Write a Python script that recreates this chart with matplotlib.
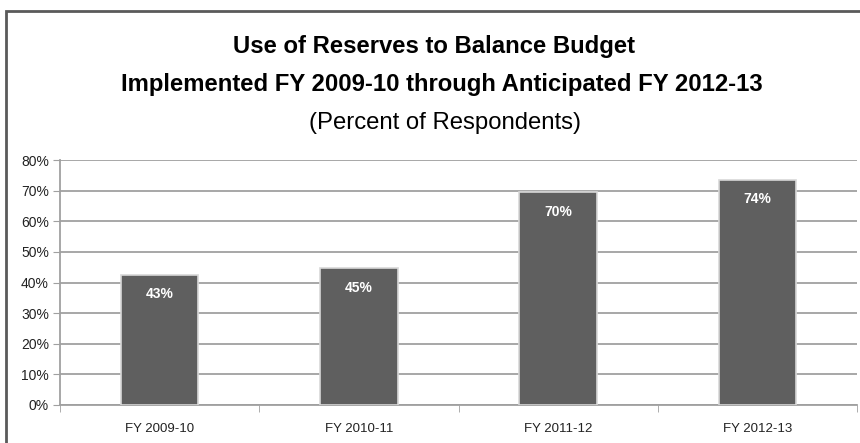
import numpy as np
import matplotlib.pyplot as plt
from matplotlib.patches import Rectangle

categories = ["FY 2009-10", "FY 2010-11", "FY 2011-12", "FY 2012-13"]
values = [42.5, 44.6, 69.4, 73.6]
labels = ["43%", "45%", "70%", "74%"]
yticks = [0, 10, 20, 30, 40, 50, 60, 70, 80]

plt.rcParams['font.family'] = ["Liberation Sans", "DejaVu Sans"]

fig = plt.figure(figsize=(8.6, 4.43), dpi=100)
fig.patches.append(Rectangle((6/860, -0.1), 1.2, 1 - 11/443 + 0.1,
                             transform=fig.transFigure, fill=False,
                             edgecolor="#5a5a5a", linewidth=2))

fig.text(0.505, 1 - 46/443, "Use of Reserves to Balance Budget",
         ha="center", va="center", fontsize=17.2, fontweight="bold")
fig.text(0.514, 1 - 84/443, "Implemented FY 2009-10 through Anticipated FY 2012-13",
         ha="center", va="center", fontsize=17.2, fontweight="bold")
fig.text(0.517, 1 - 123/443, "(Percent of Respondents)",
         ha="center", va="center", fontsize=17.2)

ax = fig.add_axes([60/860, 1 - 405/443, 797/860, 245/443])
x = np.arange(len(categories))
bars = ax.bar(x, values, width=0.39, color="#5f5f5f", edgecolor="#d8d8d8",
              linewidth=1.2, zorder=3)
for b, lab in zip(bars, labels):
    ax.text(b.get_x() + b.get_width()/2, b.get_height() - 4.0, lab,
            ha="center", va="top", color="white", fontsize=10,
            fontweight="bold", zorder=4)

ax.set_xlim(-0.5, len(categories) - 0.5)
ax.set_ylim(0, 80)
ax.set_yticks(yticks)
ax.set_yticklabels([f"{t}%" for t in yticks], fontsize=10, color="#222222")
ax.yaxis.grid(True, color="#a0a0a0", linewidth=1.3, zorder=0)
ax.set_xticks(x)
ax.set_xticklabels(categories, fontsize=9.5, color="#222222")
ax.set_xticks(np.arange(len(categories) + 1) - 0.5, minor=True)
ax.tick_params(axis="x", which="major", length=0, pad=13)
ax.tick_params(axis="x", which="minor", length=5, color="#a0a0a0")
ax.tick_params(axis="y", length=5, color="#a0a0a0", pad=3)
for s in ["top", "right"]:
    ax.spines[s].set_visible(False)
ax.spines["left"].set_color("#a0a0a0")
ax.spines["bottom"].set_color("#a0a0a0")
ax.spines["left"].set_linewidth(1.3)
ax.spines["bottom"].set_linewidth(1.3)

fig.savefig("out.png", dpi=100)
